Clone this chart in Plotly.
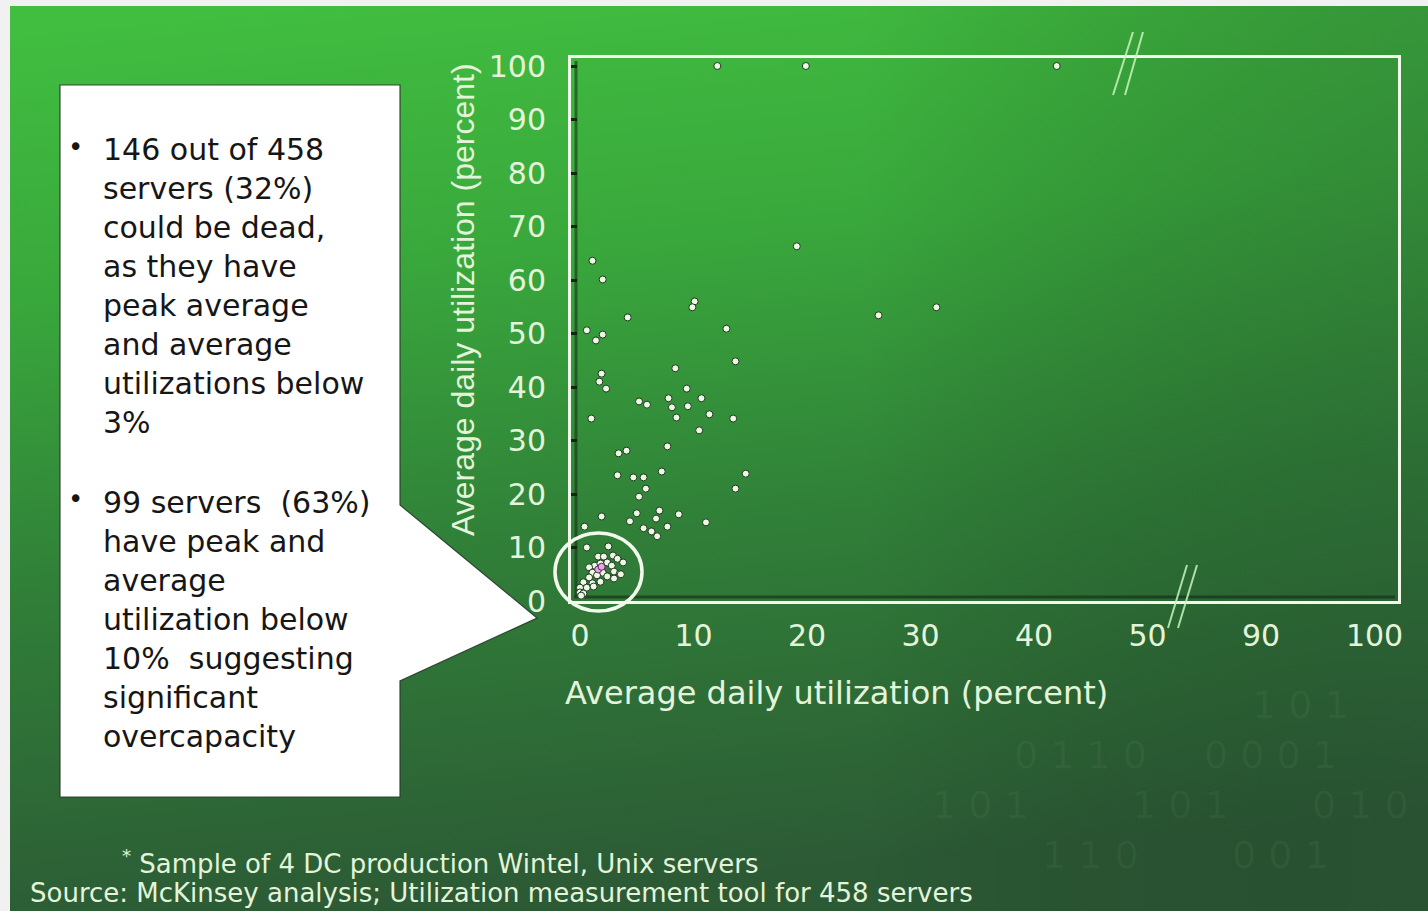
import base64
import plotly.graph_objects as go

W, H = 1428, 911
# plot area in page pixels: x 571..1398, y 58..601
L, R, T, B = 571, 30, 58, 310
PW, PH = W - L - R, H - T - B

# Server utilization samples (percent).
avg_util = [12.1, 19.9, 42.0, 19.1, 1.1, 2.0, 10.1, 9.9, 4.2, 26.3, 31.4, 12.9, 0.6, 2.0, 1.4,
            13.7, 8.4, 1.9, 1.7, 2.3, 5.2, 5.9, 7.8, 9.4, 8.1, 9.5, 10.7, 8.5, 11.4, 13.5, 10.5,
            1.0, 7.7, 4.1, 3.4, 3.3, 4.7, 5.6, 7.2, 5.8, 5.2, 14.6, 13.7, 1.9, 5.0, 7.0, 8.7,
            11.1, 6.7, 4.4, 5.6, 6.3, 7.7, 0.4, 6.8,
            0.6, 2.5, 1.6, 2.1, 2.9, 3.3, 3.8, 1.3, 1.8, 2.4, 2.8, 0.8, 1.1, 2.0, 3.0, 3.5,
            0.8, 1.5, 2.4, 3.0, 3.6, 0.3, 1.1, 1.8, 0.0, 0.6, 1.2, 0.0, 0.3, 0.1]
peak_util = [100, 100, 100, 66.3, 63.6, 60.1, 56.0, 54.9, 53.0, 53.4, 54.9, 50.9, 50.6, 49.8, 48.7,
             44.8, 43.5, 42.5, 41.0, 39.7, 37.3, 36.7, 37.9, 39.7, 36.2, 36.4, 37.9, 34.3, 34.9, 34.1, 31.9,
             34.1, 28.9, 28.1, 27.6, 23.5, 23.1, 23.1, 24.2, 21.0, 19.5, 23.8, 21.0, 15.8, 16.4, 16.9, 16.2,
             14.7, 15.4, 14.9, 13.6, 13.0, 13.9, 13.9, 12.1,
             10.0, 10.2, 8.3, 8.3, 8.5, 7.9, 7.2, 6.6, 7.0, 7.2, 6.6, 6.3, 5.3, 5.3, 5.5, 5.1,
             4.4, 4.8, 4.6, 4.2, 5.0, 3.5, 3.3, 3.6, 2.5, 2.5, 2.7, 1.6, 1.4, 1.0]
# a few overlapping servers in the dense corner
dense_x = [1.6, 1.9]
dense_y = [5.9, 6.4]

# x axis is broken after 50: 90 and 100 sit on the next two steps
x_tick_pos = [0, 10, 20, 30, 40, 50, 60, 70]
x_tick_text = ["0", "10", "20", "30", "40", "50", "90", "100"]
y_tick_vals = [0, 10, 20, 30, 40, 50, 60, 70, 80, 90, 100]

bullet_1 = ["146 out of 458", "servers (32%)", "could be dead,", "as they have",
            "peak average", "and average", "utilizations below", "3%"]
bullet_2 = ["99 servers  (63%)", "have peak and", "average", "utilization below",
            "10%  suggesting", "significant", "overcapacity"]

PALE = "#e4f4da"
FONT = "DejaVu Sans"


def fx(px):
    return (px - L) / PW


def fy(py):
    return (T + PH - py) / PH


# green slide background as an svg gradient
svg = f"""<svg xmlns='http://www.w3.org/2000/svg' width='1418' height='905' viewBox='0 0 1418 905' preserveAspectRatio='none'>
<defs><linearGradient id='g' x1='0.1' y1='0' x2='0.25' y2='1'>
<stop offset='0' stop-color='#41be40'/>
<stop offset='0.3' stop-color='#39a83c'/>
<stop offset='0.62' stop-color='#307f38'/>
<stop offset='1' stop-color='#2c5a35'/>
</linearGradient>
<linearGradient id='h' x1='0' y1='0' x2='1' y2='0'>
<stop offset='0' stop-color='#000' stop-opacity='0'/>
<stop offset='0.6' stop-color='#000' stop-opacity='0'/>
<stop offset='1' stop-color='#203a2a' stop-opacity='0.25'/>
</linearGradient></defs>
<rect width='1418' height='905' fill='url(#g)'/>
<rect width='1418' height='905' fill='url(#h)'/>
</svg>"""
bg_src = "data:image/svg+xml;base64," + base64.b64encode(svg.encode()).decode()

fig = go.Figure()
fig.add_trace(go.Scatter(
    x=avg_util, y=peak_util, mode="markers", cliponaxis=False,
    marker=dict(size=7, color="#eef8e4", line=dict(width=1, color="#1d3a1f")),
    hoverinfo="skip", showlegend=False))
fig.add_trace(go.Scatter(
    x=dense_x, y=dense_y, mode="markers", cliponaxis=False,
    marker=dict(size=7, color="#e6a6e6", line=dict(width=1, color="#5a2a5a")),
    hoverinfo="skip", showlegend=False))

shapes = []
line_c = "#f2f8ec"
# dark shadow lines just inside the frame
shapes.append(dict(type="line", xref="paper", yref="paper", x0=fx(576), x1=fx(576), y0=fy(596), y1=fy(61),
                   line=dict(color="rgba(20,40,20,0.55)", width=3), layer="below"))
shapes.append(dict(type="line", xref="paper", yref="paper", x0=fx(574), x1=fx(1395), y0=fy(597), y1=fy(597),
                   line=dict(color="rgba(20,40,20,0.6)", width=3), layer="below"))
# ring around the low-utilization cluster
shapes.append(dict(type="circle", xref="paper", yref="paper", x0=fx(555), x1=fx(642), y0=fy(611), y1=fy(533),
                   line=dict(color=line_c, width=3.5)))
# axis break marks
for (ax0, ay0, ax1, ay1) in [(1113, 95, 1133, 32), (1125, 95, 1143, 32),
                             (1168, 628, 1187, 565), (1178, 628, 1197, 565)]:
    shapes.append(dict(type="line", xref="paper", yref="paper", x0=fx(ax0), y0=fy(ay0), x1=fx(ax1), y1=fy(ay1),
                       line=dict(color="rgba(200,245,190,0.85)", width=2)))
# callout box with pointer
pts = [(60, 85), (400, 85), (400, 505), (537, 618), (400, 681), (400, 797), (60, 797)]
path = "M " + " L ".join(f"{fx(a):.5f},{fy(b):.5f}" for a, b in pts) + " Z"
shapes.append(dict(type="path", xref="paper", yref="paper", path=path, fillcolor="#ffffff",
                   line=dict(color="rgba(40,55,40,0.9)", width=1.2)))

ann = []


def note(px, py, text, size, color, family=FONT, xa="center", ya="middle", **kw):
    ann.append(dict(x=fx(px), y=fy(py), xref="paper", yref="paper", xanchor=xa, yanchor=ya,
                    text=text, showarrow=False, font=dict(family=family, size=size, color=color), **kw))


# faint binary digits in the lower right of the slide
for (tx, ty, t) in [(1300, 705, "1 0 1"), (1080, 755, "0 1 1 0"), (1270, 755, "0 0 0 1"),
                    (980, 805, "1 0 1"), (1180, 805, "1 0 1"), (1360, 805, "0 1 0"),
                    (1090, 855, "1 1 0"), (1280, 855, "0 0 1")]:
    note(tx, ty, t, 38, "rgba(170,210,170,0.06)")

note(101, 286, "<br>".join(bullet_1), 30, "#161616", xa="left", align="left")
note(101, 619, "<br>".join(bullet_2), 30, "#161616", xa="left", align="left")
for by in (147, 499):
    note(75, by, "•", 26, "#161616")

note(836, 693, "Average daily utilization (percent)", 32, PALE)
note(463, 300, "Average daily utilization (percent)", 32, PALE, family="Liberation Sans", textangle=-90)

note(120, 862, "<sup>*</sup> Sample of 4 DC production Wintel, Unix servers", 26, PALE, xa="left")
note(28, 893, "Source: McKinsey analysis; Utilization measurement tool for 458 servers", 26, PALE, xa="left")

fig.update_layout(
    width=W, height=H,
    margin=dict(l=L, r=R, t=T, b=B, pad=0),
    paper_bgcolor="#f1f1f1", plot_bgcolor="rgba(0,0,0,0)",
    images=[dict(source=bg_src, xref="paper", yref="paper", x=fx(10), y=fy(6),
                 sizex=(W - 10) / PW, sizey=(H - 6) / PH, xanchor="left", yanchor="top",
                 sizing="stretch", layer="below")],
    shapes=shapes, annotations=ann,
    xaxis=dict(range=[-9 / 11.35, -9 / 11.35 + PW / 11.35], tickvals=x_tick_pos, ticktext=x_tick_text,
               showgrid=False, zeroline=False, showline=True, linecolor=line_c, linewidth=3, mirror=True,
               ticks="", ticklabelstandoff=6, tickfont=dict(family=FONT, size=30, color=PALE)),
    yaxis=dict(range=[0, PH / 5.35], tickvals=y_tick_vals,
               showgrid=False, zeroline=False, showline=True, linecolor=line_c, linewidth=3, mirror=True,
               ticks="inside", ticklen=6, tickwidth=3, tickcolor="#13260f",
               ticklabelstandoff=16, tickfont=dict(family=FONT, size=30, color=PALE)),
)

fig.write_html("out.html")
